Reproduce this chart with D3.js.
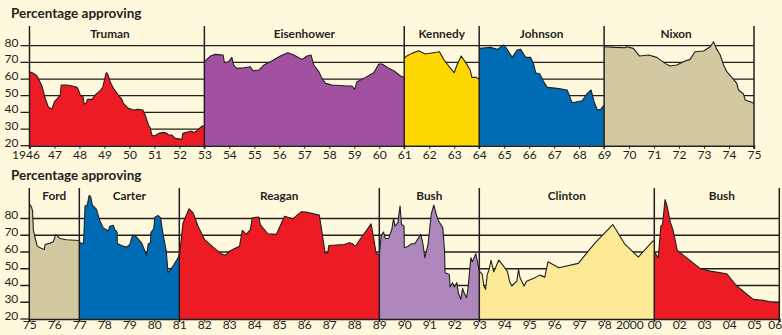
<!DOCTYPE html>
<html>
<head>
<meta charset="utf-8">
<script src="https://cdn.jsdelivr.net/npm/d3@7"></script>
<style>
  html, body { margin: 0; padding: 0; background: #fef9dc; }
  svg { display: block; }
  text { font-family: Lato, "Open Sans", sans-serif; fill: #231f20; }
</style>
</head>
<body>
<svg id="chart" width="782" height="335"></svg>
<script>
// Approval ratings, [year, percent approving]
const truman = [[1946,64.4],[1946.16,63.4],[1946.3,61.8],[1946.5,55.8],[1946.63,48.4],[1946.76,43],[1946.9,42],[1947.0,46.4],[1947.12,48.4],[1947.23,50.4],[1947.27,56.4],[1947.5,56.4],[1947.7,55.8],[1947.9,55],[1947.96,53.4],[1948.03,50.4],[1948.14,49.4],[1948.19,45],[1948.27,45.4],[1948.32,47.8],[1948.5,47.8],[1948.63,50.4],[1948.83,53],[1948.94,55.4],[1949.07,63.8],[1949.12,63.4],[1949.23,58.4],[1949.36,54.4],[1949.56,50.4],[1949.7,47.8],[1949.76,45.4],[1949.96,42.4],[1950.16,41.4],[1950.36,41.8],[1950.54,41.4],[1950.63,38.4],[1950.76,32.4],[1950.83,30.8],[1950.9,26.4],[1951.0,25.8],[1951.17,27.4],[1951.37,28],[1951.5,27.4],[1951.57,26.4],[1951.7,26.4],[1951.83,24.4],[1952.1,23.8],[1952.14,27.4],[1952.37,28.4],[1952.5,28.8],[1952.57,27.8],[1952.7,29],[1952.9,31.8],[1953,31.8]];
const eisenhower = [[1953,70.4],[1953.24,73.8],[1953.44,74.8],[1953.75,74.4],[1953.8,69.8],[1953.97,70.4],[1954.1,73],[1954.17,68.4],[1954.3,66.4],[1954.58,66.8],[1954.84,67.4],[1954.95,65],[1955.18,65.4],[1955.38,68.4],[1955.64,70.4],[1956.04,73.8],[1956.34,75.8],[1956.58,74.4],[1956.91,71.8],[1957.11,73.8],[1957.27,74.4],[1957.38,68.4],[1957.58,64.4],[1957.71,60.4],[1957.85,57.4],[1958.11,56.4],[1958.71,55.8],[1958.91,55.8],[1959.01,53.8],[1959.11,58.4],[1959.45,61],[1959.78,63.8],[1959.98,69],[1960.12,69],[1960.38,66.4],[1960.58,65],[1960.85,61.8],[1961,61]];
const kennedy = [[1961,72.4],[1961.1,73.8],[1961.31,75.4],[1961.57,77],[1961.84,75],[1962.17,75.8],[1962.41,76.4],[1962.58,71.8],[1962.78,67.8],[1963.0,63.8],[1963.11,68.4],[1963.28,73.8],[1963.48,69.4],[1963.64,65.4],[1963.71,61],[1963.88,61],[1964,59.8]];
const johnson = [[1964,78.4],[1964.25,78.8],[1964.45,79],[1964.72,77.8],[1964.99,80.4],[1965.12,77.8],[1965.32,73],[1965.52,77.4],[1965.66,77.8],[1965.86,73],[1966.06,73],[1966.19,68.4],[1966.26,63.8],[1966.43,63],[1966.56,59],[1966.72,55],[1967.12,54.4],[1967.52,53.4],[1967.72,45.8],[1968.12,47],[1968.33,51.4],[1968.48,53.4],[1968.6,46.4],[1968.73,41.4],[1968.86,41.8],[1969,44.4]];
const nixon = [[1969,79.4],[1969.44,79],[1969.84,78.8],[1969.91,79.4],[1970.17,78.4],[1970.42,73.8],[1970.78,74.4],[1971.11,73],[1971.44,69.4],[1971.64,67.8],[1971.91,68.4],[1972.24,70.8],[1972.44,71.8],[1972.64,76.4],[1972.98,76.8],[1973.25,79.4],[1973.38,82.4],[1973.49,78.4],[1973.65,74.4],[1973.78,68.4],[1973.91,64.4],[1974.18,59.8],[1974.31,57.4],[1974.38,53.4],[1974.58,51],[1974.65,47.4],[1974.85,46.4],[1975,45.4]];

// Second panel: positions along its own tick sequence
const ford = [[1975,88.7],[1975.09,86.8],[1975.13,84.4],[1975.16,73.4],[1975.23,68.5],[1975.32,63.5],[1975.49,62.1],[1975.6,61.5],[1975.63,64.5],[1975.83,65.3],[1975.96,66.1],[1976.06,70.5],[1976.22,68.1],[1976.49,67.3],[1977,66.9]];
const carter = [[1977,66.1],[1977.09,64.9],[1977.17,65.5],[1977.23,87.4],[1977.32,88],[1977.39,93.7],[1977.45,93.3],[1977.52,88],[1977.69,85.4],[1977.8,79.4],[1977.96,74.4],[1978.16,72.5],[1978.22,75.4],[1978.36,76],[1978.42,73.4],[1978.51,71.9],[1978.52,65.1],[1978.75,63.5],[1978.89,62.9],[1979.02,64.5],[1979.13,70.1],[1979.29,68.9],[1979.49,65.5],[1979.69,58.1],[1979.76,64.9],[1979.85,65.5],[1979.86,71.5],[1979.98,74],[1980.02,80.8],[1980.15,81.8],[1980.25,80.4],[1980.35,70.5],[1980.48,60.5],[1980.55,47.6],[1980.75,51.6],[1980.95,56.6],[1981,58.5]];
const reagan = [[1981,57],[1981.15,77.4],[1981.39,85.8],[1981.55,83.4],[1981.75,75.4],[1982.01,67.5],[1982.35,62.9],[1982.68,58.9],[1982.85,58.1],[1983.01,60.5],[1983.21,62.1],[1983.41,63.5],[1983.52,72.9],[1983.68,70.5],[1983.84,73.4],[1983.92,80.4],[1984.18,80.8],[1984.24,76.4],[1984.54,70.9],[1984.88,70.5],[1985.21,81.4],[1985.34,80.8],[1985.54,79.8],[1985.87,84],[1986.07,83.8],[1986.6,82],[1986.67,75.4],[1986.83,59.5],[1986.94,59.5],[1986.98,63.9],[1987.6,64.5],[1987.8,65.5],[1987.94,64.9],[1988.0,63.5],[1988.07,63.9],[1988.27,68.5],[1988.47,72.5],[1988.67,76.8],[1988.76,69.5],[1988.87,59.5],[1989,58]];
const bush = [[1989,58.5],[1989.08,70],[1989.17,71.9],[1989.24,68.1],[1989.37,68.1],[1989.5,73.4],[1989.57,80],[1989.63,75.4],[1989.74,77.4],[1989.83,87.4],[1989.89,76.4],[1989.99,75.4],[1990.0,62.5],[1990.16,63.5],[1990.29,64.9],[1990.42,64.9],[1990.66,70.5],[1990.75,64.5],[1990.82,56.6],[1990.95,64.5],[1991.08,82.8],[1991.18,88],[1991.28,82.4],[1991.34,79.4],[1991.54,74.4],[1991.61,60.5],[1991.63,47.6],[1991.8,46.6],[1991.83,39.1],[1991.93,41.7],[1992.0,39.1],[1992.1,41.7],[1992.16,35.7],[1992.26,31.7],[1992.33,38.3],[1992.39,35.7],[1992.49,32.7],[1992.55,38.3],[1992.66,56.6],[1992.72,54.2],[1992.86,58.9],[1992.92,54.6],[1993,48.6]];
const clinton = [[1993,48.6],[1993.12,46.6],[1993.18,39.7],[1993.25,37.7],[1993.32,46.6],[1993.38,49],[1993.47,55],[1993.58,48.2],[1993.78,55.2],[1993.97,51.6],[1994.13,48.2],[1994.21,42.6],[1994.3,39.7],[1994.5,42.6],[1994.57,49.6],[1994.63,44.6],[1994.79,39.7],[1994.89,42.6],[1995.16,44.2],[1995.42,46.2],[1995.62,45],[1995.75,54.2],[1996.18,50.6],[1996.96,53.2],[1997.63,65.5],[1998.34,76.4],[1998.83,64.5],[1999.36,57],[1999.94,66.5],[2000,66.5]];
const bushJr = [[2000,60.1],[2000.16,56.6],[2000.26,75.4],[2000.33,76.4],[2000.43,91.3],[2000.5,88.3],[2000.63,78.4],[2000.76,72.5],[2000.92,60.9],[2001.16,58.1],[2001.83,50.2],[2002.23,48.6],[2002.9,47],[2003.3,39.7],[2003.96,31.7],[2004.36,31.1],[2004.63,30.3],[2005,29.7]];

const topNames = ["Truman", "Eisenhower", "Kennedy", "Johnson", "Nixon"];
const topColors = ["#ed1c24", "#a1519f", "#ffd800", "#006cb6", "#d3c9a1"];
const topSeries = [truman, eisenhower, kennedy, johnson, nixon];

const bottomNames = ["Ford", "Carter", "Reagan", "Bush", "Clinton", "Bush"];
const bottomColors = ["#d3c9a1", "#006cb6", "#ed1c24", "#ae88bd", "#fbe996", "#ed1c24"];
const bottomSeries = [ford, carter, reagan, bush, clinton, bushJr];

const topTickLabels = ["1946","47","48","49","50","51","52","53","54","55","56","57","58","59","60","61","62","63","64","65","66","67","68","69","70","71","72","73","74","75"];
const bottomTickLabels = ["75","76","77","78","79","80","81","82","83","84","85","86","87","88","89","90","91","92","93","94","95","96","97","98","2000","00","02","03","04","05","06"];
const yTicks = [20, 30, 40, 50, 60, 70, 80];
const gridValues = [30, 40, 50, 60, 70, 80];
const title = "Percentage approving";

const svg = d3.select("#chart");
const ink = "#231f20";

function drawPanel(cfg) {
  const g = svg.append("g");
  const x = d3.scaleLinear().domain(cfg.xDomain).range(cfg.xRange);
  const y = d3.scaleLinear().domain([20, 80]).range(cfg.yRange);
  const [x0, x1] = cfg.xRange;
  const base = y(20);
  const nTicks = cfg.tickLabels.length;

  g.append("text")
    .attr("x", 11).attr("y", cfg.titleY)
    .attr("font-size", 13.5).attr("font-weight", 700)
    .text(title);

  // horizontal grid behind the areas
  g.selectAll("line.grid").data(gridValues).join("line")
    .attr("x1", x0 - 9).attr("x2", x1)
    .attr("y1", d => y(d)).attr("y2", d => y(d))
    .attr("stroke", ink).attr("stroke-width", 1.3);

  const area = d3.area().x(d => x(d[0])).y0(base).y1(d => y(d[1]));
  const line = d3.line().x(d => x(d[0])).y(d => y(d[1]));

  cfg.series.forEach((s, i) => {
    g.append("path").attr("d", area(s)).attr("fill", cfg.colors[i]);
    g.append("path").attr("d", line(s))
      .attr("fill", "none").attr("stroke", ink)
      .attr("stroke-width", 1.1).attr("stroke-linejoin", "round");
  });

  // term boundaries
  const bounds = [cfg.series[0][0][0]].concat(cfg.series.map(s => s[s.length - 1][0]));
  g.selectAll("line.term").data(bounds).join("line")
    .attr("x1", d => x(d)).attr("x2", d => x(d))
    .attr("y1", cfg.frameTop).attr("y2", base + 3)
    .attr("stroke", ink).attr("stroke-width", 1.5);

  // president names centred over each term
  g.selectAll("text.name").data(cfg.series).join("text")
    .attr("x", (s, i) => (x(s[0][0]) + x(s[s.length - 1][0])) / 2 + (cfg.nameShift[i] || 0))
    .attr("y", cfg.nameY)
    .attr("text-anchor", "middle")
    .attr("font-size", 11.8).attr("font-weight", 700)
    .text((s, i) => cfg.names[i]);

  // x axis
  const xTickVals = d3.range(cfg.xDomain[0], cfg.xDomain[1] + 1);
  const xAxis = d3.axisBottom(x).tickValues(xTickVals)
    .tickFormat((d, i) => cfg.tickLabels[i]).tickSize(3).tickPadding(cfg.tickPad);
  const ax = g.append("g").attr("transform", `translate(0,${base})`).call(xAxis);
  ax.select(".domain").attr("stroke", ink).attr("stroke-width", 1.5);
  ax.selectAll(".tick line").attr("stroke", ink);
  ax.selectAll(".tick text").attr("font-size", 12).attr("fill", ink)
    .attr("dx", (d, i) => i === 0 ? cfg.firstLabelShift : (i === nTicks - 1 ? cfg.lastLabelShift : 0))
    .style("font-family", "Lato, 'Open Sans', sans-serif");

  // y axis labels
  g.selectAll("text.ylab").data(yTicks).join("text")
    .attr("x", x0 - 11).attr("y", d => y(d) - 3)
    .attr("dy", "0.32em").attr("text-anchor", "end")
    .attr("font-size", 12)
    .text(d => d);
  g.append("line")
    .attr("x1", x0 - 9).attr("x2", x0).attr("y1", base).attr("y2", base)
    .attr("stroke", ink).attr("stroke-width", 1.3);
}

drawPanel({
  xDomain: [1946, 1975], xRange: [29.5, 754], yRange: [145.7, 45.7],
  titleY: 18, nameY: 37.5, frameTop: 26, tickPad: 2,
  series: topSeries, colors: topColors, names: topNames,
  tickLabels: topTickLabels, nameShift: [-7, 0, 0, 0, -3],
  firstLabelShift: -4, lastLabelShift: 0
});

drawPanel({
  xDomain: [1975, 2005], xRange: [29.3, 779.3], yRange: [319, 218.5],
  titleY: 180, nameY: 199.5, frameTop: 188, tickPad: -1.5,
  series: bottomSeries, colors: bottomColors, names: bottomNames,
  tickLabels: bottomTickLabels, nameShift: [0, 0, 0, 0, 0, 5],
  firstLabelShift: 0, lastLabelShift: -4.5
});
</script>
</body>
</html>
